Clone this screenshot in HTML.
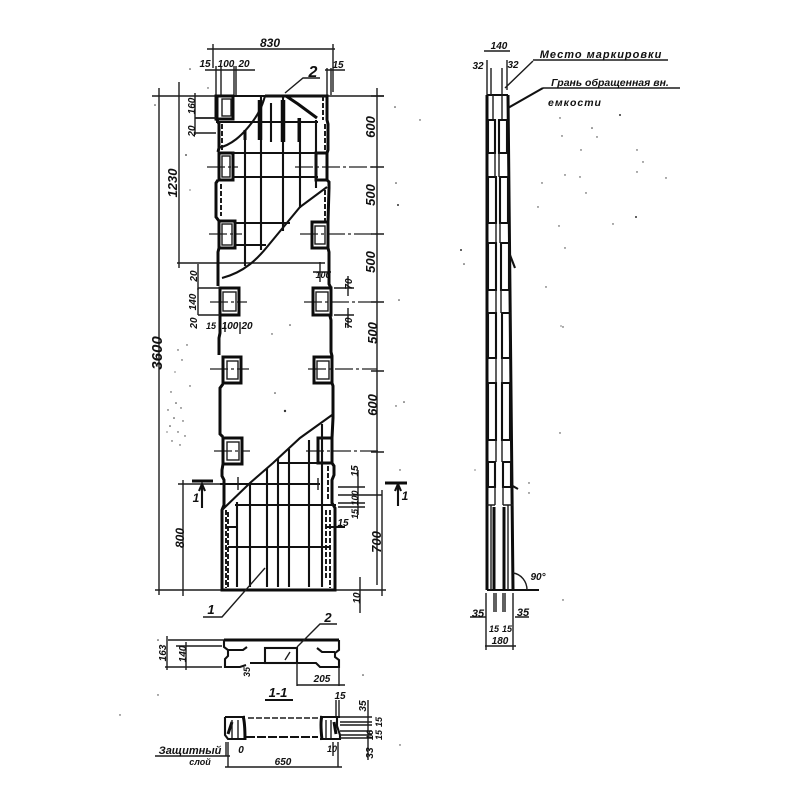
<!DOCTYPE html>
<html><head><meta charset="utf-8"><style>
html,body{margin:0;padding:0;background:#fff}
svg{display:block}
text{font-family:"Liberation Sans",sans-serif;font-weight:bold;font-style:italic;fill:#111;font-size:12px;text-anchor:middle}
.l{fill:none;stroke:#1c1c1c;stroke-width:1.4}
.m{fill:none;stroke:#111;stroke-width:2.1}
.t{fill:none;stroke:#0c0c0c;stroke-width:3}
.b{fill:none;stroke:#0c0c0c;stroke-width:4.5}
.d{fill:none;stroke:#1c1c1c;stroke-width:2;stroke-dasharray:5 2}
.c{fill:none;stroke:#222;stroke-width:1.3;stroke-dasharray:18 3 3 3}
</style></head><body>
<svg width="800" height="800" viewBox="0 0 800 800" xmlns="http://www.w3.org/2000/svg">
<rect width="800" height="800" fill="#fff"/>

<!-- overall dimension lines -->
<path class="l" d="M207,49H335M213,44V68M333,44V92"/>
<path class="l" d="M152,96H217M328,96H384M159,88V595M179,82V268M177,263H325"/>
<path class="l" d="M377,88V585M371,96H384M371,167H384M371,234H384M371,302H384M371,371H384M371,452H384"/>
<path class="l" d="M155,590H386M183,480V596M382,490V596M360,577V613"/>
<path class="l" d="M205,70H255M325,70H345M216,66V96M221,66V96M234,66V96M236,66V96M327,68V95M331,68V95"/>
<path class="l" d="M195,93V135M195,118H216M195,133H216M198,264V290"/>
<path class="l" d="M178,484H222M338,487H365M338,495H382M338,503H365M338,507H365M358,470V515"/>
<path class="l" d="M313,272H331M320,262V282M334,288H354M334,315H354M348,276V296M348,308V328"/>
<path class="l" d="M225,322V332M240,322V334M198,288V315"/>
<path class="t" d="M192,481H213M385,483H407"/>
<path class="m" d="M202,484V508M398,484V506M199,491L202,484L205,491M395,491L398,484L401,491"/>

<!-- center lines -->
<path class="c" d="M207,167H238M295,167H377M209,234H242M300,234H377M210,302H247M304,302H377M210,369H249M308,369H377M214,451H250M306,451H380"/>

<!-- panel outline -->
<path class="t" d="M217,96V120L219,124V148L218,152M218,180L216,183V217L219,221V248L218,252V286M220,316V333L219,338V355M223,384L220,388V434L223,437M223,464L222,470V476L224,480V505L222,510V590H335V508L332,503V480L334,475V466L332,463M332,438L333,418V386L332,383M332,356L331,352V320L330,316M331,288L329,284V252L328,248M328,222L329,188V182L327,180M327,153L328,150V124L327,120V96H265"/>
<path class="m" d="M217,96H328"/>
<path class="d" d="M222,124V150M221,184V216M325,124V150M323,96V120M226,510V588M228,512V588M330,510V588M326,510V580M328,466V500M325,190V222"/>

<!-- windows -->
<g class="t">
<rect x="216" y="96" width="17" height="23"/>
<rect x="219" y="153" width="14" height="27"/>
<rect x="219" y="221" width="16" height="27"/>
<rect x="220" y="288" width="19" height="27"/>
<rect x="223" y="357" width="18" height="26"/>
<rect x="223" y="438" width="19" height="26"/>
<rect x="316" y="153" width="11" height="27"/>
<rect x="312" y="222" width="16" height="26"/>
<rect x="313" y="288" width="18" height="27"/>
<rect x="314" y="357" width="18" height="26"/>
<rect x="318" y="438" width="14" height="25"/>
</g>
<g class="l">
<rect x="222" y="99" width="9" height="17"/>
<rect x="222" y="156" width="8" height="21"/>
<rect x="222" y="224" width="10" height="21"/>
<rect x="223" y="292" width="13" height="19"/>
<rect x="227" y="361" width="11" height="18"/>
<rect x="227" y="442" width="12" height="18"/>
<rect x="315" y="226" width="10" height="18"/>
<rect x="316" y="292" width="12" height="19"/>
<rect x="317" y="361" width="12" height="18"/>
<path d="M198,288H220M198,315H220M195,118H216"/>
</g>

<!-- top break + rebars -->
<path class="m" d="M218,148C232,145 242,135 250,125C258,115 262,107 265,96"/>
<path class="t" d="M286,96L298,104L317,118"/>
<path class="m" d="M327,187L300,207L267,247C258,258 245,272 222,278"/>
<path class="m" d="M245,135V266M261,97V250M283,97V231M300,118V208M271,103V142M316,120V188"/>
<path class="b" d="M260,100V140M283,100V142"/>
<path class="t" d="M245,130V140M299,118V142"/>
<path class="m" d="M216,122H318M232,153H318M232,177H318M235,223H290M235,245H266"/>

<!-- bottom break + rebars -->
<path class="m" d="M332,415L300,438L273,463L250,483L222,510"/>
<path class="m" d="M237,502V587M250,484V587M267,468V587M278,458V587M289,449V587M309,440V587M322,424V587"/>
<path class="m" d="M277,463H318M220,484H320M235,505H336M228,547H330M226,527H236M326,527H345"/>
<path class="l" d="M238,477V490M318,478V490"/>

<!-- leaders -->
<path class="l" d="M285,93L303,78H320"/>
<path class="l" d="M265,568L222,617H203"/>

<!-- main labels -->
<text x="270" y="47" font-size="12">830</text>
<text x="205" y="67" style="font-size:10px">15</text>
<text x="226" y="67" style="font-size:10px">100</text>
<text x="244" y="67" style="font-size:10px">20</text>
<text x="338" y="68" style="font-size:10px">15</text>
<text x="313" y="77" style="font-size:16px">2</text>
<text transform="translate(195,106) rotate(-90)" style="font-size:10px">160</text>
<text transform="translate(195,131) rotate(-90)" style="font-size:10px">20</text>
<text transform="translate(177,183) rotate(-90)" style="font-size:13px">1230</text>
<text transform="translate(162,353) rotate(-90)" style="font-size:15px">3600</text>
<text transform="translate(375,127) rotate(-90)" style="font-size:13px">600</text>
<text transform="translate(375,195) rotate(-90)" style="font-size:13px">500</text>
<text transform="translate(375,262) rotate(-90)" style="font-size:13px">500</text>
<text transform="translate(377,333) rotate(-90)" style="font-size:13px">500</text>
<text transform="translate(377,405) rotate(-90)" style="font-size:13px">600</text>
<text transform="translate(197,276) rotate(-90)" style="font-size:10px">20</text>
<text transform="translate(196,302) rotate(-90)" style="font-size:10px">140</text>
<text transform="translate(197,323) rotate(-90)" style="font-size:10px">20</text>
<text x="211" y="329" style="font-size:9px">15</text>
<text x="230" y="329" style="font-size:10px">100</text>
<text x="247" y="329" style="font-size:10px">20</text>
<text x="323" y="278" style="font-size:9px">100</text>
<text transform="translate(352,284) rotate(-90)" style="font-size:10px">70</text>
<text transform="translate(352,323) rotate(-90)" style="font-size:10px">70</text>
<text transform="translate(358,471) rotate(-90)" style="font-size:10px">15</text>
<text transform="translate(358,498) rotate(-90)" style="font-size:9px">100</text>
<text transform="translate(358,514) rotate(-90)" style="font-size:9px">15</text>
<text x="343" y="526" style="font-size:10px">15</text>
<text transform="translate(184,538) rotate(-90)" style="font-size:12px">800</text>
<text transform="translate(381,542) rotate(-90)" style="font-size:13px">700</text>
<text transform="translate(360,598) rotate(-90)" style="font-size:10px">10</text>
<text x="196" y="502" style="font-size:12px">1</text>
<text x="405" y="500" style="font-size:12px">1</text>
<text x="211" y="614" style="font-size:13px">1</text>

<!-- plan section -->
<path class="t" d="M224,640H339"/>
<path class="m" d="M224,640V647L228,650V656L225,659V667H240L246,665M339,640V650L335,653V657L339,660V667H320L316,663H250M317,648L322,652H335M228,650H243L247,647"/>
<rect class="m" x="265" y="648" width="32" height="15"/>
<path class="l" d="M168,640H224M176,646H222M165,667H222M297,663V686M339,667V686M297,685H345M167,636V670M186,642V670"/>
<path class="l" d="M297,647L320,624H337M285,660L290,652"/>
<text x="328" y="622" style="font-size:13px">2</text>
<text transform="translate(166,653) rotate(-90)" style="font-size:10px">163</text>
<text transform="translate(186,654) rotate(-90)" style="font-size:10px">140</text>
<text transform="translate(250,672) rotate(-90)" style="font-size:9px">35</text>
<text x="322" y="682" style="font-size:10px">205</text>
<text x="278" y="697" style="font-size:13px">1-1</text>
<path class="m" d="M265,700H293"/>

<!-- cross section -->
<path class="m" d="M225,717H245M320,717H340M225,717V735L228,739H245M320,739H340V735L337,726V717"/>
<path class="t" d="M243,716Q245,722 245,740M322,716Q320,722 322,740M232,722L228,734M334,722L336,734"/>
<path class="l" d="M232,720V738M238,720V738M326,720V738M331,720V738"/>
<path class="l" style="stroke-dasharray:6 2" d="M248,718H320"/>
<path class="m" style="stroke-dasharray:9 2" d="M246,737H318"/>
<path class="l" d="M340,717H372M340,722H372M340,725H372M340,731H372M340,735H372M340,738H372M368,700V760M336,700V716M339,700V716M228,742V767M226,742V756M338,742V767M333,742V756"/>
<path class="l" d="M225,767H342M155,756H230"/>
<text x="340" y="699" style="font-size:10px">15</text>
<text transform="translate(366,706) rotate(-90)" style="font-size:10px">35</text>
<text transform="translate(382,722) rotate(-90)" style="font-size:9px">15</text>
<text transform="translate(373,735) rotate(-90)" style="font-size:9px">16</text>
<text transform="translate(382,735) rotate(-90)" style="font-size:9px">15</text>
<text transform="translate(373,753) rotate(-90)" style="font-size:10px">33</text>
<text x="190" y="754" style="font-size:11px">Защитный</text>
<text x="200" y="765" style="font-size:9px">слой</text>
<text x="241" y="753" style="font-size:10px">0</text>
<text x="332" y="752" style="font-size:9px">10</text>
<text x="283" y="765" style="font-size:10px">650</text>

<!-- side view -->
<path class="t" d="M487,95V590M508,95L513,590"/>
<path class="m" d="M487,95H508M487,590H539"/>
<path class="l" d="M487,60V95M507,60V90M484,51H510M491,68V95M502,68V95"/>
<path class="l" d="M493,95V120M502,95V120"/>
<g class="m">
<path d="M488,120h7v33h-7zM499,120h8v33h-8z"/>
<path d="M488,177h8v46h-8zM500,177h8v46h-8z"/>
<path d="M488,243h8v47h-8zM501,243h8v47h-8z"/>
<path d="M488,313h8v45h-8zM502,313h8v45h-8z"/>
<path d="M488,383h8v57h-8zM502,383h8v57h-8z"/>
<path d="M488,462h7v25h-7zM503,462h8v25h-8z"/>
</g>
<path class="l" d="M495,153V177M499,153V177M496,223V243M500,223V243M496,290V313M501,290V313M496,358V383M502,358V383M496,440V462M502,440V462M495,487V505M503,487V505M487,505H495M503,505H513"/>
<path class="l" d="M491,505V590M508,505V590"/>
<path class="t" d="M494,507V590M504,507V590"/>
<path class="m" d="M510,255L515,268M511,485L518,489"/>
<path class="l" d="M513,573A16,17 0 0 1 527,590"/>
<path class="l" d="M486,593V650M494,593V612M496,593V612M503,593V612M505,593V612M513,593V650M485,646H516M470,617H486M515,617H529"/>
<path class="l" d="M533,61L505,88M533,60H668M543,88H680"/>
<path class="m" d="M543,88L508,108"/>
<text x="478" y="69" style="font-size:10px">32</text>
<text x="513" y="68" style="font-size:10px">32</text>
<text x="499" y="49" style="font-size:10px">140</text>
<text x="601" y="58" style="font-size:11px;letter-spacing:1px">Место маркировки</text>
<text x="610" y="86" style="font-size:10.5px">Грань обращенная вн.</text>
<text x="575" y="106" style="font-size:10.5px;letter-spacing:1px">емкости</text>
<text x="538" y="580" style="font-size:10px">90°</text>
<text x="478" y="617" style="font-size:11px">35</text>
<text x="523" y="616" style="font-size:11px">35</text>
<text x="494" y="632" style="font-size:9px">15</text>
<text x="507" y="632" style="font-size:9px">15</text>
<text x="500" y="644" style="font-size:10px">180</text>

<!-- speckles -->
<g fill="#333">
<circle cx="171" cy="392" r=".7"/><circle cx="176" cy="403" r=".8"/><circle cx="168" cy="410" r=".7"/><circle cx="181" cy="408" r=".7"/><circle cx="174" cy="418" r=".8"/><circle cx="183" cy="421" r=".7"/><circle cx="170" cy="426" r=".8"/><circle cx="178" cy="432" r=".7"/><circle cx="185" cy="436" r=".7"/><circle cx="172" cy="441" r=".7"/><circle cx="167" cy="432" r=".6"/><circle cx="180" cy="445" r=".7"/><circle cx="190" cy="386" r=".7"/><circle cx="178" cy="350" r=".7"/><circle cx="182" cy="360" r=".7"/><circle cx="187" cy="345" r=".7"/><circle cx="175" cy="372" r=".6"/>
<circle cx="285" cy="411" r="1.2"/><circle cx="290" cy="325" r=".8"/><circle cx="275" cy="393" r=".8"/><circle cx="272" cy="334" r=".7"/><circle cx="395" cy="107" r=".8"/><circle cx="398" cy="205" r="1"/><circle cx="396" cy="183" r=".8"/><circle cx="399" cy="300" r=".8"/><circle cx="404" cy="402" r=".8"/><circle cx="420" cy="120" r=".7"/><circle cx="396" cy="406" r=".7"/><circle cx="400" cy="470" r=".7"/><circle cx="208" cy="88" r=".7"/><circle cx="190" cy="69" r=".8"/><circle cx="155" cy="105" r=".8"/><circle cx="186" cy="155" r=".9"/><circle cx="190" cy="190" r=".6"/><circle cx="158" cy="640" r=".8"/><circle cx="120" cy="715" r=".7"/><circle cx="363" cy="675" r=".8"/><circle cx="400" cy="745" r=".7"/><circle cx="158" cy="695" r=".7"/>
<circle cx="620" cy="115" r="1"/><circle cx="560" cy="118" r=".7"/><circle cx="592" cy="128" r=".8"/><circle cx="597" cy="137" r=".7"/><circle cx="562" cy="136" r=".7"/><circle cx="581" cy="150" r=".7"/><circle cx="565" cy="175" r=".7"/><circle cx="637" cy="150" r=".7"/><circle cx="643" cy="162" r=".7"/><circle cx="637" cy="172" r=".7"/><circle cx="580" cy="177" r=".7"/><circle cx="542" cy="183" r=".7"/><circle cx="538" cy="207" r=".7"/><circle cx="586" cy="193" r=".7"/><circle cx="666" cy="178" r=".7"/><circle cx="636" cy="217" r="1"/><circle cx="613" cy="224" r=".7"/><circle cx="559" cy="226" r=".7"/><circle cx="565" cy="248" r=".7"/><circle cx="461" cy="250" r="1"/><circle cx="464" cy="264" r=".8"/><circle cx="546" cy="287" r=".7"/><circle cx="563" cy="327" r=".7"/><circle cx="561" cy="326" r=".6"/><circle cx="560" cy="433" r=".7"/><circle cx="529" cy="483" r=".7"/><circle cx="529" cy="493" r=".7"/><circle cx="563" cy="600" r=".7"/><circle cx="475" cy="470" r=".6"/>
</g>
</svg>
</body></html>
